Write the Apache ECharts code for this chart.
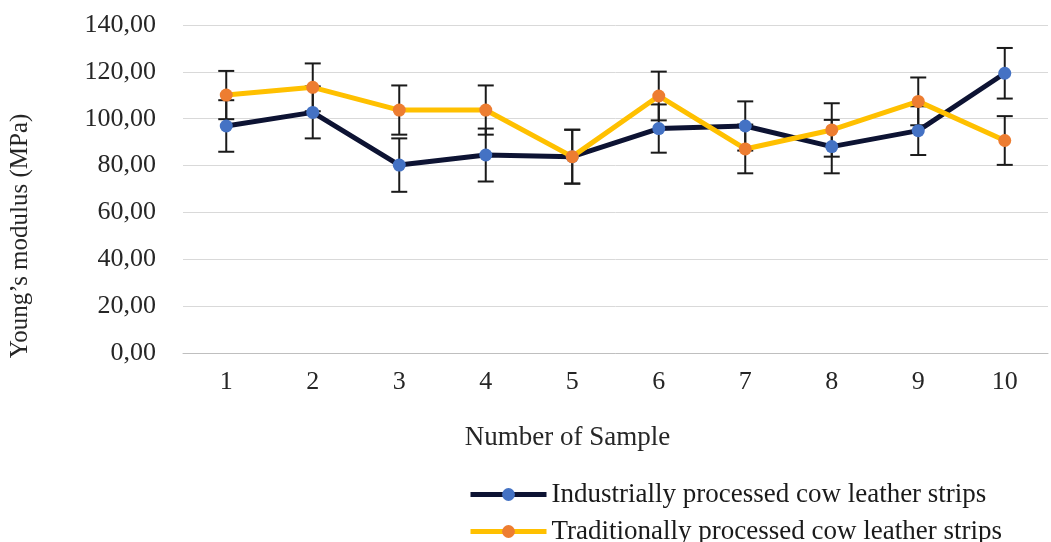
<!DOCTYPE html>
<html>
<head>
<meta charset="utf-8">
<script src="https://cdn.jsdelivr.net/npm/echarts@6/dist/echarts.min.js"></script>
<style>
html,body{margin:0;padding:0;background:#fff;}
#chart{width:1051px;height:542px;}
</style>
</head>
<body>
<div id="chart"></div>
<script>
const categories = ['1','2','3','4','5','6','7','8','9','10'];
const industrialName = 'Industrially processed cow leather strips';
const traditionalName = 'Traditionally processed cow leather strips';
const industrial = [96.9, 102.7, 80.2, 84.5, 83.8, 95.8, 96.9, 88.1, 94.9, 119.4];
const industrialErr = [11.0, 11.1, 11.4, 11.3, 11.5, 10.3, 10.5, 11.4, 10.4, 10.8];
const traditional = [110.1, 113.4, 103.7, 103.7, 83.8, 109.7, 87.1, 95.2, 107.4, 90.7];
const traditionalErr = [10.3, 10.2, 10.5, 10.5, 11.5, 10.4, 10.4, 11.4, 10.2, 10.4];
const yTicks = {min: 0, max: 140, interval: 20};

const FONT = 'Liberation Serif';
const TXT = '#262626';

function errData(vals, errs) {
  return vals.map((v, i) => [i, v - errs[i], v + errs[i]]);
}
function errRender(params, api) {
  const x = api.value(0);
  const lo = api.coord([x, api.value(1)]);
  const hi = api.coord([x, api.value(2)]);
  const w = 8;
  const st = {stroke: '#1a1a1a', lineWidth: 2};
  return {type: 'group', children: [
    {type: 'line', shape: {x1: hi[0], y1: hi[1], x2: lo[0], y2: lo[1]}, style: st},
    {type: 'line', shape: {x1: hi[0] - w, y1: hi[1], x2: hi[0] + w, y2: hi[1]}, style: st},
    {type: 'line', shape: {x1: lo[0] - w, y1: lo[1], x2: lo[0] + w, y2: lo[1]}, style: st}
  ]};
}

const legendBase = {
  orient: 'horizontal',
  left: 463,
  itemWidth: 76,
  itemHeight: 16,
  lineStyle: {width: 5},
  textStyle: {fontFamily: FONT, fontSize: 27, color: '#1a1a1a'}
};

const chart = echarts.init(document.getElementById('chart'), null, {renderer: 'canvas'});
chart.setOption({
  animation: false,
  backgroundColor: '#fff',
  grid: {left: 182, right: 3, top: 25, bottom: 189},
  legend: [
    Object.assign({}, legendBase, {data: [industrialName], top: 476}),
    Object.assign({}, legendBase, {data: [traditionalName], top: 513})
  ],
  xAxis: {
    type: 'category',
    data: categories,
    boundaryGap: true,
    name: 'Number of Sample',
    nameLocation: 'middle',
    nameGap: 71,
    nameTextStyle: {fontFamily: FONT, fontSize: 27, color: TXT, padding: [0, 96, 0, 0]},
    axisLine: {lineStyle: {color: '#bfbfbf', width: 1}},
    axisTick: {show: false},
    axisLabel: {fontFamily: FONT, fontSize: 26, color: TXT, margin: 16}
  },
  yAxis: {
    type: 'value',
    min: yTicks.min,
    max: yTicks.max,
    interval: yTicks.interval,
    name: 'Young’s modulus (MPa)',
    nameLocation: 'middle',
    nameRotate: 90,
    nameGap: 150,
    nameTextStyle: {fontFamily: FONT, fontSize: 25, color: TXT, padding: [0, 94, 0, 0]},
    axisLine: {show: false},
    axisTick: {show: false},
    splitLine: {lineStyle: {color: '#d9d9d9', width: 1}},
    axisLabel: {
      fontFamily: FONT, fontSize: 26, color: TXT, margin: 27,
      formatter: v => v.toFixed(2).replace('.', ',')
    }
  },
  series: [
    {
      type: 'custom', name: 'errInd', renderItem: errRender,
      data: errData(industrial, industrialErr), z: 1, silent: true
    },
    {
      type: 'custom', name: 'errTrad', renderItem: errRender,
      data: errData(traditional, traditionalErr), z: 1, silent: true
    },
    {
      type: 'line', name: industrialName, data: industrial, z: 3,
      symbol: 'circle', symbolSize: 13,
      lineStyle: {color: '#0d1333', width: 5},
      itemStyle: {color: '#4472C4'}
    },
    {
      type: 'line', name: traditionalName, data: traditional, z: 4,
      symbol: 'circle', symbolSize: 13,
      lineStyle: {color: '#FFC000', width: 5},
      itemStyle: {color: '#ED7D31'}
    }
  ]
});
</script>
</body>
</html>
